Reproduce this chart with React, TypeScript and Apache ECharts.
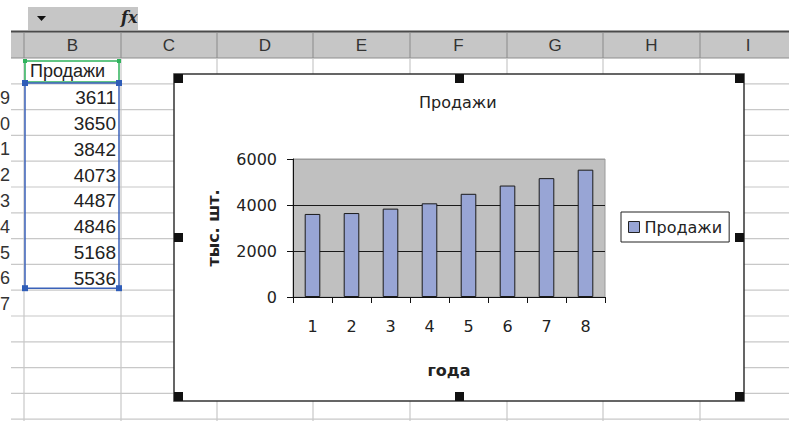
import React, { useEffect, useRef } from "react";
import * as echarts from "echarts";

const years = ["1", "2", "3", "4", "5", "6", "7", "8"];
const sales = [3611, 3650, 3842, 4073, 4487, 4846, 5168, 5536];
const seriesName = "Продажи";
const chartTitle = "Продажи";
const yAxisName = "тыс. шт.";
const xAxisName = "года";
const columnLetters = ["B", "C", "D", "E", "F", "G", "H", "I"];
// only the last digit of each row number is visible at the left edge
const rowDigits = ["9", "0", "1", "2", "3", "4", "5", "6", "7"];

const SANS = "DejaVu Sans";
const CELL = "Liberation Sans";

export default function App() {
  const ref = useRef<HTMLDivElement>(null);

  useEffect(() => {
    if (!ref.current) return;
    const chart = echarts.init(ref.current, null, { renderer: "svg" });

    const colX = [24, 121, 217, 313, 410, 507, 603, 700];
    const colCenters = [72.5, 169, 265, 361.5, 458.5, 555, 651.5, 748];
    const headerTop = 32;
    const headerBottom = 58;
    const rowH = 25.8;
    const rowY = (k: number) => headerBottom + k * rowH;

    const g: any[] = [];
    // toolbar
    g.push({ type: "rect", z: -5, shape: { x: 28, y: 7, width: 110, height: 23 }, style: { fill: "#c6c6c6" } });
    g.push({ type: "polygon", z: -4, shape: { points: [[37, 16], [46, 16], [41.5, 21]] }, style: { fill: "#111" } });
    g.push({ type: "text", z: -4, x: 121, y: 9, style: { text: "fx", font: "italic bold 16px 'DejaVu Serif'", fill: "#222" } });
    // header
    g.push({ type: "rect", z: -5, shape: { x: 11, y: headerTop, width: 778, height: headerBottom - headerTop }, style: { fill: "#c6c6c6" } });
    g.push({ type: "line", z: -4, shape: { x1: 11, y1: 31.5, x2: 789, y2: 31.5 }, style: { stroke: "#4a4a4a", lineWidth: 2 } });
    g.push({ type: "line", z: -4, shape: { x1: 11, y1: headerBottom, x2: 789, y2: headerBottom }, style: { stroke: "#8e8e8e", lineWidth: 1 } });
    colX.forEach((x) => {
      g.push({ type: "line", z: -4, shape: { x1: x, y1: headerTop, x2: x, y2: headerBottom }, style: { stroke: "#8a8a8a", lineWidth: 1 } });
      g.push({ type: "line", z: -4, shape: { x1: x, y1: headerBottom, x2: x, y2: 421 }, style: { stroke: "#c8c8c8", lineWidth: 1.2 } });
    });
    columnLetters.forEach((c, i) => {
      g.push({ type: "text", z: -4, x: colCenters[i], y: 45, style: { text: c, font: `17px '${CELL}'`, fill: "#333", align: "center", verticalAlign: "middle" } });
    });
    for (let k = 1; k <= 14; k++) {
      g.push({ type: "line", z: -4, shape: { x1: 11, y1: rowY(k), x2: 789, y2: rowY(k) }, style: { stroke: "#c8c8c8", lineWidth: 1.2 } });
    }
    rowDigits.forEach((r, i) => {
      g.push({ type: "text", z: -4, x: 0, y: rowY(i + 1) + rowH / 2 + 1, style: { text: r, font: `18px '${CELL}'`, fill: "#333", align: "left", verticalAlign: "middle" } });
    });
    g.push({ type: "text", z: -3, x: 30, y: rowY(0) + rowH / 2, style: { text: seriesName, font: `18px '${CELL}'`, fill: "#222", align: "left", verticalAlign: "middle" } });
    sales.forEach((v, i) => {
      g.push({ type: "text", z: -3, x: 116, y: rowY(i + 1) + rowH / 2 + 1, style: { text: String(v), font: `19px '${CELL}'`, fill: "#222", align: "right", verticalAlign: "middle" } });
    });
    // selection
    g.push({ type: "rect", z: -2, shape: { x: 25, y: 61, width: 94, height: 21 }, style: { fill: "none", stroke: "#2fb35c", lineWidth: 1.5 } });
    [[25, 61], [119, 61]].forEach(([x, y]) => {
      g.push({ type: "rect", z: -2, shape: { x: x - 2, y: y - 2, width: 4, height: 4 }, style: { fill: "#2fb35c" } });
    });
    const blueBottom = rowY(sales.length + 1) - 2;
    g.push({ type: "rect", z: -2, shape: { x: 25, y: 83, width: 94, height: blueBottom - 83 }, style: { fill: "none", stroke: "#3b62b9", lineWidth: 1.5 } });
    [[25, 83], [119, 83], [25, blueBottom], [119, blueBottom]].forEach(([x, y]) => {
      g.push({ type: "rect", z: -2, shape: { x: x - 3, y: y - 3, width: 6, height: 6 }, style: { fill: "#2f5db8" } });
    });
    // chart area
    g.push({ type: "rect", z: -1, shape: { x: 174, y: 74, width: 570, height: 327 }, style: { fill: "#fff", stroke: "#333", lineWidth: 1.5 } });
    const handles = [
      [174, 74], [455, 74], [735, 74],
      [174, 233], [735, 233],
      [174, 392], [455, 392], [735, 392],
    ];
    handles.forEach(([x, y]) => {
      g.push({ type: "rect", z: 50, shape: { x, y, width: 9, height: 9 }, style: { fill: "#111" } });
    });

    const option: any = {
      animation: false,
      backgroundColor: "#fff",
      title: {
        text: chartTitle,
        left: 419,
        top: 94,
        padding: 0,
        textStyle: { fontFamily: SANS, fontSize: 16, fontWeight: "normal", color: "#222" },
      },
      legend: {
        left: 621,
        top: 212,
        orient: "vertical",
        data: [seriesName],
        icon: "rect",
        itemWidth: 11,
        itemHeight: 11,
        borderColor: "#222",
        borderWidth: 1,
        padding: [7, 7, 7, 7],
        backgroundColor: "#fff",
        textStyle: { fontFamily: SANS, fontSize: 16, color: "#222" },
        itemStyle: { borderColor: "#222", borderWidth: 1 },
      },
      grid: {
        left: 293,
        top: 159,
        width: 312,
        height: 138,
        show: true,
        backgroundColor: "#c0c0c0",
        borderColor: "#9a9a9a",
        borderWidth: 1,
      },
      xAxis: {
        type: "category",
        data: years,
        axisLine: { lineStyle: { color: "#111", width: 1 } },
        axisTick: { show: true, interval: 0, length: 6, lineStyle: { color: "#111" } },
        axisLabel: { fontFamily: SANS, fontSize: 16, color: "#222", margin: 21 },
        name: xAxisName,
        nameLocation: "middle",
        nameGap: 65,
        nameTextStyle: { fontFamily: SANS, fontSize: 16, fontWeight: "bold", color: "#222" },
      },
      yAxis: {
        type: "value",
        min: 0,
        max: 6000,
        interval: 2000,
        axisLine: { show: true, lineStyle: { color: "#111", width: 1 } },
        axisTick: { show: true, length: 6, lineStyle: { color: "#111" } },
        axisLabel: {
          fontFamily: SANS,
          fontSize: 16,
          color: "#222",
          margin: 16,
          formatter: (v: number) => String(v),
        },
        splitLine: { show: true, lineStyle: { color: ["#111", "#1a1a1a", "#1a1a1a", "#9a9a9a"], width: 1 } },
        name: yAxisName,
        nameLocation: "middle",
        nameGap: 72,
        nameRotate: 90,
        nameTextStyle: { fontFamily: SANS, fontSize: 16, fontWeight: "bold", color: "#222" },
      },
      series: [
        {
          name: seriesName,
          type: "bar",
          data: sales,
          barWidth: "40%",
          itemStyle: { color: "#98a5d5", borderColor: "#1a1a1a", borderWidth: 1 },
        },
      ],
      graphic: { elements: g },
    };
    chart.setOption(option);
    return () => chart.dispose();
  }, []);

  return (
    <div
      ref={ref}
      style={{ position: "fixed", left: 0, top: 0, width: 789, height: 421 }}
    />
  );
}
